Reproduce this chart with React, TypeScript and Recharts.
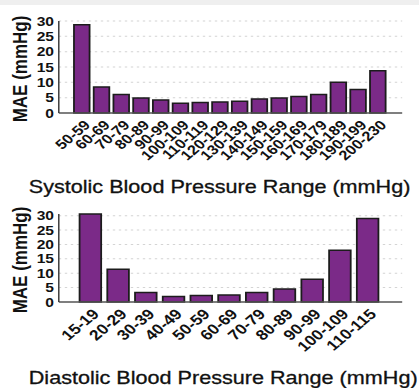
import React from "react";
import { BarChart, Bar, XAxis, YAxis, CartesianGrid } from "recharts";

// Systolic ranges (mmHg) and their mean absolute error
const systolicRanges = [
  "50-59", "60-69", "70-79", "80-89", "90-99", "100-109", "110-119", "120-129",
  "130-139", "140-149", "150-159", "160-169", "170-179", "180-189", "190-199", "200-230",
];
const systolicMae = [28.8, 8.5, 6.0, 4.9, 4.2, 3.2, 3.4, 3.6, 3.8, 4.6, 4.9, 5.4, 6.0, 10.0, 7.7, 13.8];

// Diastolic ranges (mmHg) and their mean absolute error
const diastolicRanges = [
  "15-19", "20-29", "30-39", "40-49", "50-59", "60-69", "70-79", "80-89", "90-99", "100-109", "110-115",
];
const diastolicMae = [30.6, 11.4, 3.3, 1.9, 2.3, 2.4, 3.3, 4.5, 7.9, 18.0, 29.0];

const yTicks = [0, 5, 10, 15, 20, 25, 30];

const systolicData = systolicRanges.map((range, i) => ({ range, mae: systolicMae[i] }));
const diastolicData = diastolicRanges.map((range, i) => ({ range, mae: diastolicMae[i] }));

const FONT = "'Liberation Sans', Arial, Helvetica, sans-serif";
const BAR_FILL = "#7b2a88";
const INK = "#111111";

// The figure is drawn on a narrower canvas and widened horizontally.
const STRETCH = 1.2;
const FULL_W = 419;
const INNER_W = FULL_W / STRETCH;

const RotatedTick = (props: any) => {
  const { x, y, payload, fontSize } = props;
  return (
    <g transform={`translate(${x},${y})`}>
      <text
        x={0}
        y={0}
        dx={2}
        dy={9}
        textAnchor="end"
        transform="rotate(-45)"
        fontFamily={FONT}
        fontWeight="bold"
        fontSize={fontSize}
        fill={INK}
      >
        {payload.value}
      </text>
    </g>
  );
};

const YLabel = (props: any) => {
  const { viewBox } = props;
  const cx = 16.5;
  const cy = viewBox.y + viewBox.height / 2 + 2;
  return (
    <text
      x={cx}
      y={cy}
      transform={`rotate(-90, ${cx}, ${cy})`}
      textAnchor="middle"
      dominantBaseline="central"
      fontFamily={FONT}
      fontWeight="bold"
      fontSize={17}
      fill={INK}
    >
      MAE (mmHg)
    </text>
  );
};

const makeTitle = (text: string, centerX: number, baselineY: number) => () => (
  <text
    x={centerX}
    y={baselineY}
    textAnchor="middle"
    fontFamily={FONT}
    fontSize={18}
    fill={INK}
    stroke={INK}
    strokeWidth={0.3}
  >
    {text}
  </text>
);

type PanelProps = {
  data: { range: string; mae: number }[];
  height: number;
  top: number;
  xPad: { left: number; right: number };
  tickFont: number;
  title: string;
  titleX: number;
  titleBaseline: number;
};

const Panel = ({ data, height, top, xPad, tickFont, title, titleX, titleBaseline }: PanelProps) => (
  <BarChart
    width={INNER_W}
    height={height}
    data={data}
    margin={{ top, right: 14, left: 0, bottom: 0 }}
    barCategoryGap="10%"
  >
    <CartesianGrid
      vertical={false}
      stroke="#d4d4d4"
      strokeDasharray="2 3"
      horizontalValues={[5, 10, 15, 20, 25, 30]}
    />
    <XAxis
      dataKey="range"
      interval={0}
      height={87}
      padding={xPad}
      tickLine={false}
      axisLine={{ stroke: "#555", strokeWidth: 1.5 }}
      tick={<RotatedTick fontSize={tickFont} />}
      label={{ content: makeTitle(title, titleX, titleBaseline) }}
    />
    <YAxis
      width={49}
      domain={[0, 30]}
      ticks={yTicks}
      interval={0}
      tickLine={false}
      tickSize={0}
      tickMargin={4}
      axisLine={{ stroke: "#333", strokeWidth: 1.2 }}
      tick={{ fontFamily: FONT, fontWeight: "bold", fontSize: 13, fill: INK }}
      label={{ content: YLabel }}
    />
    <Bar dataKey="mae" fill={BAR_FILL} stroke="#1c1c1c" strokeWidth={1.5} isAnimationActive={false} />
  </BarChart>
);

export default function App() {
  return (
    <div
      style={{
        position: "absolute",
        left: 0,
        top: 0,
        width: FULL_W,
        height: 389,
        background: "#ffffff",
        overflow: "hidden",
      }}
    >
      <div style={{ position: "absolute", left: 0, top: 0, width: FULL_W, height: 5, background: "#efefef" }} />
      <div
        style={{
          position: "absolute",
          left: 0,
          top: 0,
          width: INNER_W,
          transform: `scaleX(${STRETCH})`,
          transformOrigin: "left top",
        }}
      >
        <Panel
          data={systolicData}
          height={200}
          top={21}
          xPad={{ left: 11, right: 12 }}
          tickFont={13.5}
          title="Systolic Blood Pressure Range (mmHg)"
          titleX={183}
          titleBaseline={193}
        />
      </div>
      <div
        style={{
          position: "absolute",
          left: 0,
          top: 200,
          width: INNER_W,
          transform: `scaleX(${STRETCH})`,
          transformOrigin: "left top",
        }}
      >
        <Panel
          data={diastolicData}
          height={189}
          top={14}
          xPad={{ left: 15, right: 17 }}
          tickFont={14.5}
          title="Diastolic Blood Pressure Range (mmHg)"
          titleX={186}
          titleBaseline={184}
        />
      </div>
    </div>
  );
}
